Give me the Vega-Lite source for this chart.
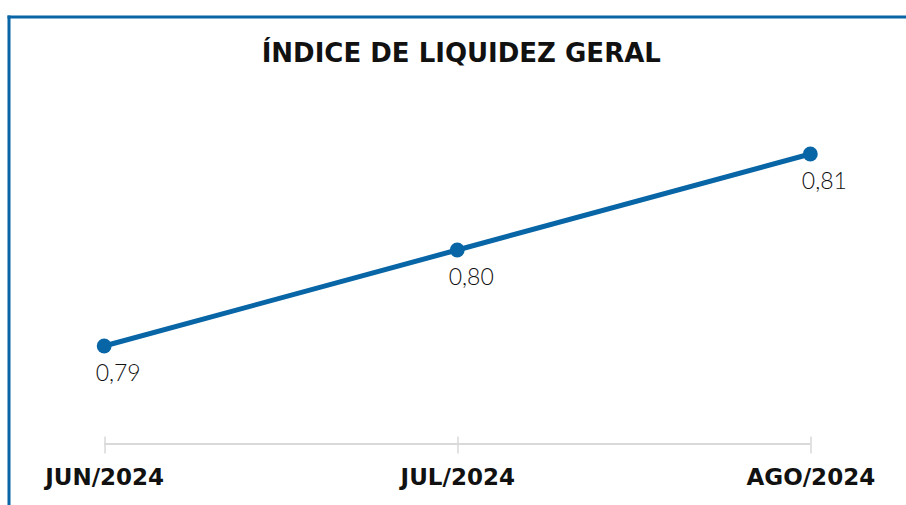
{
  "$schema": "https://vega.github.io/schema/vega-lite/v6.json",
  "width": 897.5,
  "height": 488.5,
  "padding": {"left": 8.5, "top": 16.5, "right": 0, "bottom": 0},
  "autosize": {"type": "none"},
  "background": "white",
  "config": {"view": {"stroke": null}},
  "title": {
    "text": "ÍNDICE DE LIQUIDEZ GERAL",
    "font": "DejaVu Sans",
    "fontSize": 26,
    "fontWeight": "bold",
    "color": "#111111",
    "anchor": "middle",
    "offset": -50,
    "dx": 4
  },
  "data": {
    "values": [
      {"mes": "JUN/2024", "valor": 0.79, "rotulo": "0,79"},
      {"mes": "JUL/2024", "valor": 0.80, "rotulo": "0,80"},
      {"mes": "AGO/2024", "valor": 0.81, "rotulo": "0,81"}
    ]
  },
  "resolve": {"axis": {"x": "independent"}},
  "layer": [
    {
      "mark": {"type": "rule", "color": "#d9d9d9", "strokeWidth": 1.5},
      "encoding": {
        "x": {
          "datum": "JUN/2024",
          "type": "ordinal",
          "scale": {"type": "point", "padding": 0.271, "domain": ["JUN/2024", "JUL/2024", "AGO/2024"]},
          "axis": {
            "orient": "top",
            "domain": true,
            "domainColor": "#0865a6",
            "domainWidth": 3,
            "domainCap": "square",
            "ticks": false,
            "labels": false,
            "grid": false,
            "title": null
          }
        },
        "x2": {"datum": "AGO/2024"},
        "y": {"datum": 0.7798, "type": "quantitative"}
      }
    },
    {
      "mark": {
        "type": "line",
        "color": "#0865a6",
        "strokeWidth": 5,
        "point": {"filled": true, "size": 220, "color": "#0865a6", "opacity": 1}
      },
      "encoding": {
        "x": {
          "field": "mes",
          "type": "ordinal",
          "sort": null,
          "scale": {"type": "point", "padding": 0.271, "domain": ["JUN/2024", "JUL/2024", "AGO/2024"]},
          "axis": {
            "orient": "bottom",
            "offset": -69,
            "domain": false,
            "ticks": true,
            "tickSize": 17,
            "tickColor": "#d9d9d9",
            "tickWidth": 1.5,
            "labelFont": "DejaVu Sans",
            "labelFontSize": 23,
            "labelFontWeight": "bold",
            "labelColor": "#111111",
            "labelPadding": 13,
            "labelAngle": 0,
            "grid": false,
            "title": null
          }
        },
        "y": {
          "field": "valor",
          "type": "quantitative",
          "scale": {"domain": [0.77344, 0.82432], "nice": false, "zero": false},
          "axis": {
            "orient": "left",
            "domain": true,
            "domainColor": "#0865a6",
            "domainWidth": 3,
            "domainCap": "square",
            "ticks": false,
            "labels": false,
            "grid": false,
            "title": null
          }
        }
      }
    },
    {
      "mark": {
        "type": "text",
        "font": "Lato",
        "fontSize": 23,
        "fontWeight": 300,
        "color": "#111111",
        "baseline": "middle",
        "align": "center",
        "dx": 14,
        "dy": 28
      },
      "encoding": {
        "x": {"field": "mes", "type": "ordinal", "sort": null},
        "y": {"field": "valor", "type": "quantitative"},
        "text": {"field": "rotulo"}
      }
    }
  ]
}
